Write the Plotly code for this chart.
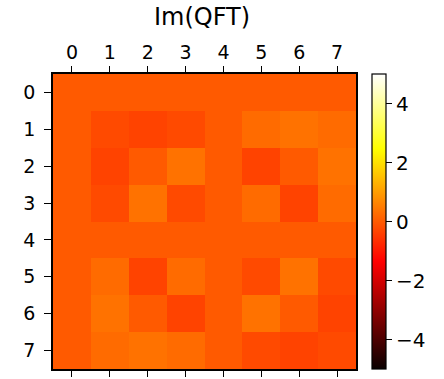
import numpy as np
import plotly.graph_objects as go

N = 8
rows = list(range(N))
cols = list(range(N))
# Imaginary part of the 8x8 QFT matrix (e^{-2πi jk/8}/sqrt(8))
im_qft = [[float(-np.sin(2 * np.pi * j * k / N) / np.sqrt(N)) for k in cols] for j in rows]
cbar_ticks = [-4, -2, 0, 2, 4]

# matplotlib "hot" colormap
hot = [
    [0.0, "rgb(10,0,0)"],
    [0.365079, "rgb(255,0,0)"],
    [0.746032, "rgb(255,255,0)"],
    [1.0, "rgb(255,255,255)"],
]

font = "DejaVu Sans"
fig = go.Figure(
    go.Heatmap(
        z=im_qft, x=cols, y=rows, colorscale=hot, zmin=-5, zmax=5,
        colorbar=dict(
            thickness=14, len=1.0, lenmode="fraction", y=0.5, yanchor="middle",
            x=372 / 444, xref="container", xanchor="left", xpad=0, ypad=0,
            outlinecolor="black", outlinewidth=1.2,
            tickvals=cbar_ticks, ticks="outside", ticklen=6, tickcolor="black",
            tickprefix="\u00a0\u2009",
            tickfont=dict(family=font, size=20, color="black"),
        ),
    )
)
fig.update_layout(
    width=444, height=379,
    margin=dict(l=53, r=88, t=74, b=2),
    paper_bgcolor="white", plot_bgcolor="white",
    font=dict(family=font, color="black"),
    title=dict(text="Im(QFT)", x=202 / 444, xanchor="center", y=1 - 17 / 379,
               yanchor="middle", font=dict(family=font, size=24, color="black")),
)
fig.update_xaxes(side="top", tickvals=cols, ticks="outside", ticklen=6, tickcolor="black",
                 showline=True, linecolor="black", linewidth=1.5, mirror="ticks",
                 showgrid=False, zeroline=False, tickfont=dict(size=19),
                 range=[-0.5, 7.5])
fig.update_yaxes(autorange="reversed", tickvals=rows, ticks="outside", ticklen=7,
                 tickcolor="black", showline=True, linecolor="black", linewidth=1.5,
                 mirror=True, showgrid=False, zeroline=False, tickfont=dict(size=19),
                 ticklabelstandoff=5)
fig.write_html("out.html")
